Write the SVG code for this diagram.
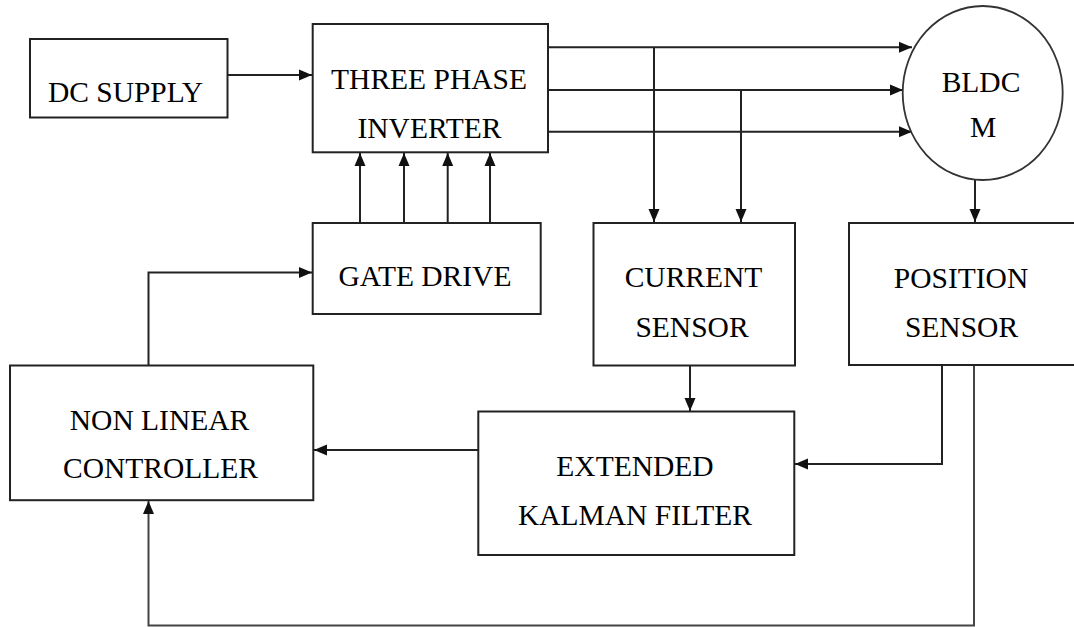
<svg xmlns="http://www.w3.org/2000/svg" width="1074" height="627" viewBox="0 0 1074 627">
<style>
.box{fill:#fff;stroke:#222;stroke-width:2}
.lbl{font-family:"Liberation Serif","Times New Roman",serif;font-size:29.5px;fill:#000;text-anchor:middle}
.wire{fill:none;stroke:#222;stroke-width:2}
.arr{marker-end:url(#ah)}
</style>
<defs>
<marker id="ah" markerUnits="userSpaceOnUse" markerWidth="14" markerHeight="12" refX="13" refY="6" orient="auto">
<path d="M0,0.5 L13,6 L0,11.5 z" fill="#111"/>
</marker>
</defs>
<rect width="1074" height="627" fill="#fff"/>
<g id="connectors">
<path class="wire arr" d="M227.5,75 H312"/>
<path class="wire arr" d="M548,47.3 H912"/>
<path class="wire arr" d="M548,90 H903"/>
<path class="wire arr" d="M548,131.7 H912"/>
<path class="wire arr" d="M654,47.3 V222"/>
<path class="wire arr" d="M741,90 V222"/>
<path class="wire arr" d="M360,223 V153"/>
<path class="wire arr" d="M404,223 V153"/>
<path class="wire arr" d="M447.7,223 V153"/>
<path class="wire arr" d="M490,223 V153"/>
<path class="wire arr" d="M975,180 V222"/>
<path class="wire arr" d="M690,365.5 V411"/>
<path class="wire arr" d="M942,365 V464 H795"/>
<path class="wire arr" d="M478,450 H314"/>
<path class="wire arr" d="M148.5,365.5 V272.5 H312"/>
<path class="wire arr" d="M974,365 V625.5 H148.5 V501" style="stroke:#444"/>
</g>
<g id="dc-supply">
<rect class="box" x="30" y="39" width="197.5" height="78.5"/>
<text class="lbl" x="125.5" y="101.5">DC SUPPLY</text>
</g>
<g id="inverter">
<rect class="box" x="312.7" y="24" width="235.3" height="128.3"/>
<text class="lbl" x="429" y="89.3">THREE PHASE</text>
<text class="lbl" x="429.5" y="138.3">INVERTER</text>
</g>
<g id="gate-drive">
<rect class="box" x="312.7" y="223" width="228" height="91"/>
<text class="lbl" x="425" y="285.7">GATE DRIVE</text>
</g>
<g id="bldc">
<ellipse cx="982.7" cy="93" rx="80" ry="87" fill="#fff" stroke="#333" stroke-width="1.8"/>
<text class="lbl" x="981" y="91.7">BLDC</text>
<text class="lbl" x="983" y="137">M</text>
</g>
<g id="current-sensor">
<rect class="box" x="593.5" y="223" width="201.5" height="142.5"/>
<text class="lbl" x="693.5" y="287.3">CURRENT</text>
<text class="lbl" x="692" y="336.7">SENSOR</text>
</g>
<g id="position-sensor">
<rect class="box" x="849" y="223" width="240" height="142"/>
<text class="lbl" x="961" y="288">POSITION</text>
<text class="lbl" x="961.5" y="336.7">SENSOR</text>
</g>
<g id="ekf">
<rect class="box" x="478.3" y="411.5" width="316" height="143.5"/>
<text class="lbl" x="635" y="476">EXTENDED</text>
<text class="lbl" x="635" y="525">KALMAN FILTER</text>
</g>
<g id="controller">
<rect class="box" x="10" y="365.5" width="303.3" height="134.7"/>
<text class="lbl" x="159.5" y="430">NON LINEAR</text>
<text class="lbl" x="160.5" y="477.7">CONTROLLER</text>
</g>
</svg>
